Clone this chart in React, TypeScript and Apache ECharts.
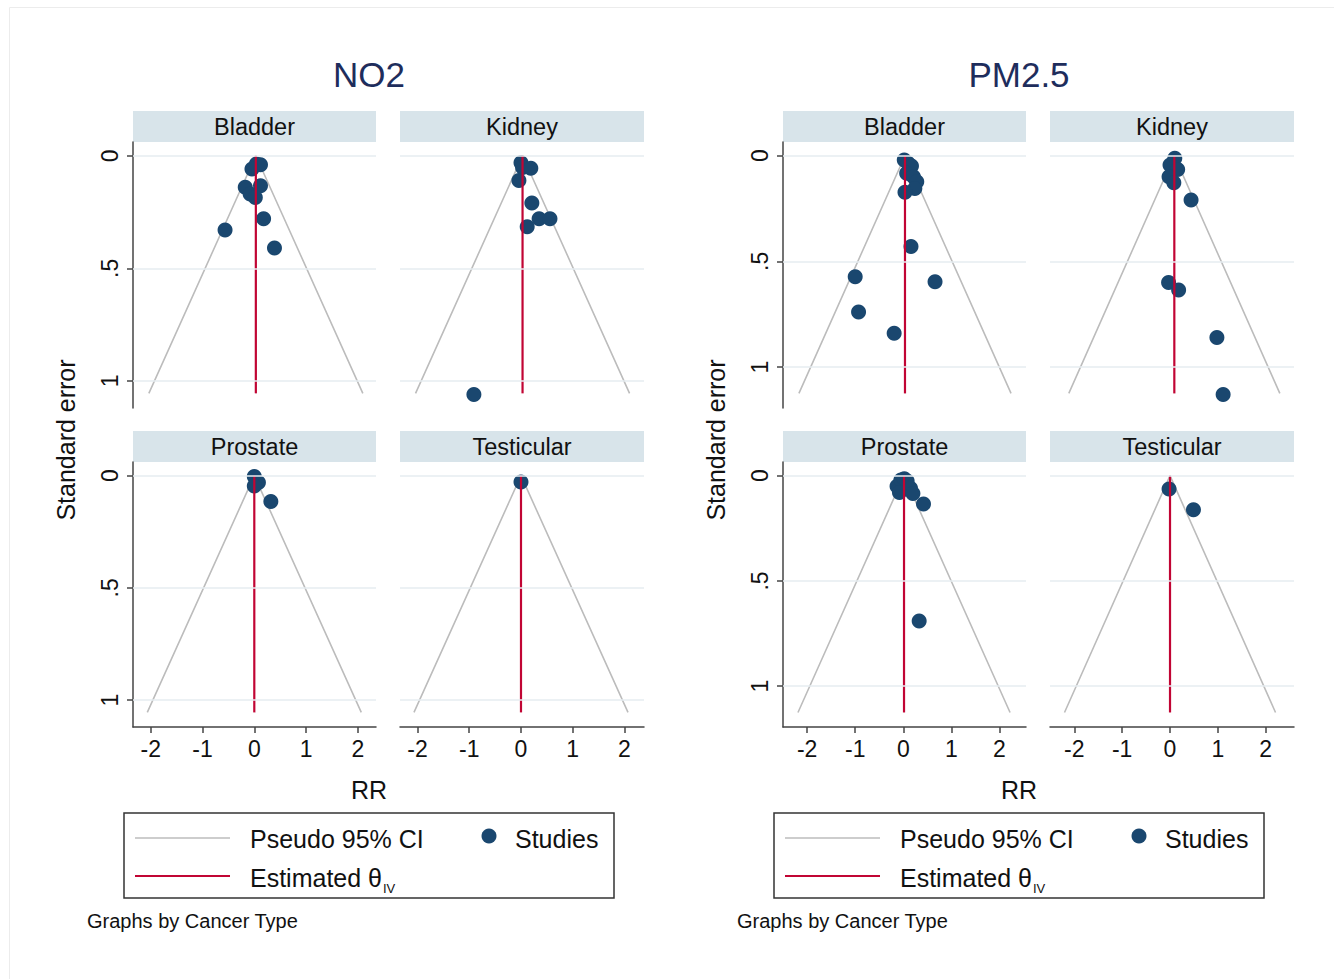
import React, { useEffect, useRef } from "react";
import * as echarts from "echarts";

// ---------- data ----------
const pollutants = ["NO2", "PM2.5"];
const cancers = ["Bladder", "Kidney", "Prostate", "Testicular"];

// studies: [effect (RR, log scale), standard error]
const no2Bladder = [[0.04, 0.037], [0.12, 0.04], [-0.045, 0.059], [-0.175, 0.14], [0.12, 0.133], [-0.08, 0.17], [0.02, 0.185], [0.18, 0.28], [-0.565, 0.33], [0.39, 0.41]];
const no2Kidney = [[0.0, 0.031], [0.03, 0.052], [0.19, 0.056], [-0.04, 0.11], [0.21, 0.21], [0.35, 0.28], [0.56, 0.28], [0.12, 0.315], [-0.91, 1.06]];
const no2Prostate = [[0.0, 0.004], [0.08, 0.03], [0.0, 0.046], [0.32, 0.115]];
const no2Testicular = [[0.0, 0.028]];

const pmBladder = [[0.02, 0.02], [0.1, 0.035], [0.17, 0.049], [0.07, 0.083], [0.21, 0.1], [0.28, 0.123], [0.24, 0.155], [0.035, 0.173], [0.16, 0.43], [-1.0, 0.573], [0.66, 0.597], [-0.93, 0.74], [-0.19, 0.84]];
const pmKidney = [[0.1, 0.012], [0.0, 0.044], [0.16, 0.065], [-0.02, 0.1], [0.08, 0.128], [0.44, 0.21], [-0.03, 0.6], [0.18, 0.636], [0.98, 0.86], [1.11, 1.13]];
const pmProstate = [[-0.13, 0.05], [-0.05, 0.02], [0.02, 0.015], [0.08, 0.025], [-0.08, 0.08], [0.15, 0.06], [0.2, 0.085], [0.42, 0.134], [0.33, 0.69]];
const pmTesticular = [[-0.02, 0.063], [0.49, 0.162]];

// estimated theta (IV) per cancer, and max standard error of the funnel
const no2Theta = [0.03, 0.03, 0.0, 0.0];
const pmTheta = [0.035, 0.09, 0.015, 0.0];
const no2SeMax = 1.055;
const pmSeMax = 1.125;

const xTicks = [-2, -1, 0, 1, 2];
const yTicks = [0, 0.5, 1];
const yTickLabels = ["0", ".5", "1"];

const legendCI = "Pseudo 95% CI";
const legendStudies = "Studies";
const legendTheta = "Estimated θ";
const legendThetaSub = "IV";
const yTitle = "Standard error";
const xTitle = "RR";
const noteText = "Graphs by Cancer Type";

// ---------- styling ----------
const FONT = '"Liberation Sans", Arial, Helvetica, sans-serif';
const NAVY = "#1a476f";
const RED = "#c10534";
const GREY = "#bcbcbc";
const GRID = "#e6edf0";
const AXIS = "#444444";
const STRIP = "#d8e4ea";
const TITLE = "#1e2d5c";

export default function App() {
  const ref = useRef<HTMLDivElement>(null);

  useEffect(() => {
    document.body.style.margin = "0";
    const chart = echarts.init(ref.current!, null, { renderer: "svg" });

    const studies = [
      [no2Bladder, no2Kidney, no2Prostate, no2Testicular],
      [pmBladder, pmKidney, pmProstate, pmTesticular],
    ];
    const thetas = [no2Theta, pmTheta];
    const seMaxes = [no2SeMax, pmSeMax];

    // layout (pixels) and axis extents
    const xRange = [
      [[-2.344, 2.352], [-2.338, 2.377]],
      [[-2.501, 2.551], [-2.508, 2.591]],
    ];
    const yRange = [[-0.061, 1.12], [-0.065, 1.194]];

    const grids: any[] = [];
    const xAxes: any[] = [];
    const yAxes: any[] = [];
    const series: any[] = [];
    const graphics: any[] = [];

    const measure = (t: string, size: number) => {
      const c = document.createElement("canvas").getContext("2d")!;
      c.font = `${size}px "Liberation Sans", Arial, sans-serif`;
      return c.measureText(t).width;
    };

    pollutants.forEach((pol, p) => {
      const off = 650 * p;
      // title
      graphics.push({
        type: "text", x: 369 + off, y: 74,
        style: { text: pol, fontSize: 35, fontFamily: FONT, fill: TITLE, align: "center", verticalAlign: "middle" },
      });
      cancers.forEach((can, c) => {
        const col = c % 2;
        const row = Math.floor(c / 2);
        const idx = p * 4 + c;
        const left = 133 + off + col * 267;
        const width = col ? 244 : 243;
        const top = row ? 462 : 142;
        const height = row ? 265 : 266;
        grids.push({ left, top, width, height, containLabel: false });
        // strip
        graphics.push({
          type: "rect", shape: { x: left, y: top - 31, width, height: 31 },
          style: { fill: STRIP }, z: 0,
        });
        graphics.push({
          type: "text", x: left + width / 2, y: top - 15.5,
          style: { text: can, fontSize: 23.5, fontFamily: FONT, fill: "#111", align: "center", verticalAlign: "middle" },
        });
        xAxes.push({
          type: "value", gridIndex: idx,
          min: xRange[p][col][0], max: xRange[p][col][1],
          show: row === 1,
          axisLine: { show: true, onZero: false, lineStyle: { color: AXIS, width: 1.5 } },
          axisTick: { show: true, customValues: xTicks, length: 6, lineStyle: { color: AXIS, width: 1.5 } },
          axisLabel: { show: true, customValues: xTicks, fontSize: 23, fontFamily: FONT, color: "#111", margin: 10 },
          splitLine: { show: false },
        });
        yAxes.push({
          type: "value", gridIndex: idx, inverse: true,
          min: yRange[p][0], max: yRange[p][1],
          show: col === 0,
          axisLine: { show: true, onZero: false, lineStyle: { color: AXIS, width: 1.5 } },
          axisTick: { show: true, customValues: yTicks, length: 6, lineStyle: { color: AXIS, width: 1.5 } },
          axisLabel: {
            show: true, customValues: yTicks, rotate: 90, fontSize: 23, fontFamily: FONT, color: "#111", margin: 12,
            formatter: (v: number) => yTickLabels[yTicks.indexOf(v)] ?? String(v),
          },
          splitLine: { show: false },
        });
        const th = thetas[p][c];
        const sm = seMaxes[p];
        series.push({
          type: "line", xAxisIndex: idx, yAxisIndex: idx, z: 1,
          data: [[th - 1.96 * sm, sm], [th, 0], [th + 1.96 * sm, sm]],
          symbol: "none", lineStyle: { color: GREY, width: 1.6 }, silent: true,
          markLine: {
            silent: true, symbol: ["none", "none"], label: { show: false },
            lineStyle: { color: GRID, width: 1.5, type: "solid" },
            data: yTicks.map((v) => ({ yAxis: v })),
          },
        });
        series.push({
          type: "scatter", xAxisIndex: idx, yAxisIndex: idx, z: 3,
          data: studies[p][c], symbolSize: 15, itemStyle: { color: NAVY, opacity: 1 },
        });
        series.push({
          type: "line", xAxisIndex: idx, yAxisIndex: idx, z: 4,
          data: [[th, 0], [th, sm]], symbol: "none", lineStyle: { color: RED, width: 2.2 }, silent: true,
        });
      });

      // axis titles
      graphics.push({
        type: "text", x: 66 + off, y: 440, rotation: Math.PI / 2,
        style: { text: yTitle, fontSize: 25, fontFamily: FONT, fill: "#111", align: "center", verticalAlign: "middle" },
      });
      graphics.push({
        type: "text", x: 369 + off, y: 790,
        style: { text: xTitle, fontSize: 25, fontFamily: FONT, fill: "#111", align: "center", verticalAlign: "middle" },
      });
      // legend box
      graphics.push({
        type: "rect", shape: { x: 124 + off, y: 813, width: 490, height: 85 },
        style: { fill: "#fff", stroke: "#333", lineWidth: 1.5 }, z: 1,
      });
      graphics.push({
        type: "line", shape: { x1: 135 + off, y1: 838, x2: 230 + off, y2: 838 },
        style: { stroke: GREY, lineWidth: 1.6 }, z: 2,
      });
      graphics.push({
        type: "line", shape: { x1: 135 + off, y1: 876, x2: 230 + off, y2: 876 },
        style: { stroke: RED, lineWidth: 2.2 }, z: 2,
      });
      graphics.push({
        type: "circle", shape: { cx: 489 + off, cy: 836, r: 7.5 },
        style: { fill: NAVY }, z: 2,
      });
      graphics.push({
        type: "text", x: 250 + off, y: 839, z: 2,
        style: { text: legendCI, fontSize: 25, fontFamily: FONT, fill: "#111", align: "left", verticalAlign: "middle" },
      });
      graphics.push({
        type: "text", x: 515 + off, y: 839, z: 2,
        style: { text: legendStudies, fontSize: 25, fontFamily: FONT, fill: "#111", align: "left", verticalAlign: "middle" },
      });
      const tw = measure(legendTheta, 25);
      graphics.push({
        type: "text", x: 250 + off, y: 878, z: 2,
        style: { text: legendTheta, fontSize: 25, fontFamily: FONT, fill: "#111", align: "left", verticalAlign: "middle" },
      });
      graphics.push({
        type: "text", x: 250 + off + tw + 1, y: 888, z: 2,
        style: { text: legendThetaSub, fontSize: 13, fontFamily: FONT, fill: "#111", align: "left", verticalAlign: "middle" },
      });
      graphics.push({
        type: "text", x: 87 + off, y: 921, z: 2,
        style: { text: noteText, fontSize: 20, fontFamily: FONT, fill: "#111", align: "left", verticalAlign: "middle" },
      });
    });

    // faint outer frame
    graphics.push({
      type: "rect", shape: { x: 9.5, y: 7.5, width: 1340, height: 990 },
      style: { fill: "none", stroke: "#ececec", lineWidth: 1 }, z: 0,
    });

    chart.setOption({
      animation: false,
      backgroundColor: "#ffffff",
      textStyle: { fontFamily: FONT },
      grid: grids,
      xAxis: xAxes,
      yAxis: yAxes,
      series,
      graphic: { elements: graphics },
    });

    return () => chart.dispose();
  }, []);

  return <div ref={ref} style={{ position: "absolute", left: 0, top: 0, width: 1334, height: 979 }} />;
}
